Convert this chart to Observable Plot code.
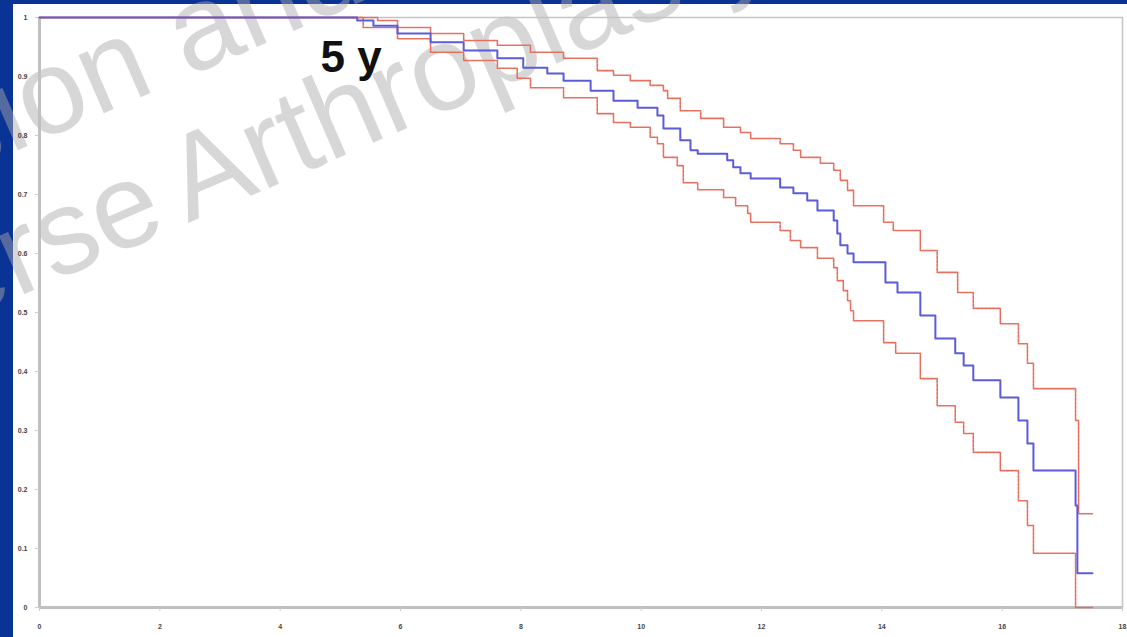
<!DOCTYPE html>
<html>
<head>
<meta charset="utf-8">
<script src="https://cdn.jsdelivr.net/npm/d3@7"></script>
<script src="https://cdn.jsdelivr.net/npm/@observablehq/plot@0.6"></script>
<style>
  html, body { margin:0; padding:0; }
  body { width:1127px; height:637px; background:#0a3396; position:relative; overflow:hidden; font-family:"Liberation Sans", Arial, sans-serif; }
  #panel { position:absolute; left:13px; top:4px; width:1114px; height:633px; background:#ffffff; }
  #wm { position:absolute; left:0; top:0; }
  #chart { position:absolute; left:0; top:0; }
</style>
</head>
<body>
<div id="panel"></div>
<svg id="wm" width="1127" height="637">
  <g font-family="Liberation Sans, Arial, sans-serif" font-size="120" fill="rgb(170,170,170)" fill-opacity="0.47">
    <g transform="translate(35,143) rotate(-23.4)">
      <text text-anchor="end">Revisi</text>
      <text text-anchor="start">on and</text>
    </g>
    <g transform="translate(188,223) rotate(-23.4)">
      <text text-anchor="end" x="-20">Reverse</text>
      <text text-anchor="start">Arthroplasty</text>
    </g>
  </g>
</svg>
<div id="chart"></div>
<script>
// Survival estimate (years, proportion)
const survivalYears = [0, 5.20, 5.28, 5.55, 5.95, 6.50, 7.05, 7.61, 8.04, 8.44, 8.71, 9.16, 9.54, 9.94, 10.27, 10.37, 10.65, 10.82, 10.94, 11.43, 11.53, 11.65, 11.82, 12.31, 12.53, 12.76, 12.93, 13.20, 13.26, 13.31, 13.43, 13.53, 14.06, 14.26, 14.64, 14.89, 15.22, 15.36, 15.52, 15.97, 16.27, 16.42, 16.52, 17.22, 17.25, 17.50];
const survivalValues = [1, 1.0, 0.995, 0.986, 0.973, 0.958, 0.944, 0.931, 0.915, 0.905, 0.893, 0.876, 0.859, 0.847, 0.834, 0.812, 0.792, 0.775, 0.769, 0.758, 0.746, 0.736, 0.727, 0.712, 0.702, 0.690, 0.673, 0.656, 0.634, 0.614, 0.600, 0.585, 0.551, 0.534, 0.495, 0.456, 0.431, 0.410, 0.385, 0.356, 0.317, 0.278, 0.232, 0.173, 0.058, 0.058];

// Upper confidence bound
const upperYears = [0, 5.38, 5.62, 5.95, 6.50, 7.05, 7.61, 8.16, 8.71, 9.27, 9.54, 9.82, 10.15, 10.37, 10.44, 10.65, 10.99, 11.37, 11.65, 11.82, 12.31, 12.53, 12.65, 12.98, 13.20, 13.31, 13.43, 13.53, 14.03, 14.19, 14.64, 14.92, 15.26, 15.52, 15.97, 16.27, 16.42, 16.52, 17.22, 17.27, 17.50];
const upperValues = [1, 1.0, 0.995, 0.983, 0.973, 0.961, 0.953, 0.941, 0.931, 0.910, 0.902, 0.893, 0.885, 0.876, 0.863, 0.842, 0.829, 0.814, 0.805, 0.795, 0.786, 0.775, 0.763, 0.753, 0.741, 0.724, 0.707, 0.681, 0.653, 0.639, 0.605, 0.568, 0.534, 0.507, 0.481, 0.447, 0.414, 0.371, 0.317, 0.159, 0.159];

// Lower confidence bound
const lowerYears = [0, 5.20, 5.38, 5.95, 6.50, 7.05, 7.61, 7.94, 8.16, 8.71, 9.27, 9.54, 9.82, 10.15, 10.27, 10.37, 10.60, 10.70, 10.94, 11.37, 11.57, 11.77, 11.82, 12.31, 12.48, 12.65, 12.93, 13.20, 13.26, 13.36, 13.43, 13.48, 13.53, 14.03, 14.23, 14.64, 14.92, 15.22, 15.36, 15.52, 15.97, 16.27, 16.42, 16.52, 17.22, 17.50];
const lowerValues = [1, 1.0, 0.983, 0.964, 0.941, 0.927, 0.914, 0.897, 0.881, 0.864, 0.837, 0.822, 0.814, 0.797, 0.786, 0.763, 0.749, 0.720, 0.708, 0.695, 0.681, 0.668, 0.653, 0.639, 0.622, 0.610, 0.592, 0.576, 0.554, 0.537, 0.520, 0.503, 0.486, 0.449, 0.431, 0.388, 0.342, 0.314, 0.295, 0.263, 0.232, 0.181, 0.139, 0.092, 0.0, 0.0];

const xTicks = [0, 2, 4, 6, 8, 10, 12, 14, 16, 18];
const yTicks = [0, 0.1, 0.2, 0.3, 0.4, 0.5, 0.6, 0.7, 0.8, 0.9, 1];
const annotation = [{year: 4.67, value: 0.907, label: "5 y"}];

const toRows = (xs, ys) => xs.map((x, i) => ({year: x, value: ys[i]}));
const survival = toRows(survivalYears, survivalValues);
const upper = toRows(upperYears, upperValues);
const lower = toRows(lowerYears, lowerValues);

const chart = Plot.plot({
  width: 1127,
  height: 637,
  marginLeft: 39,
  marginRight: 5,
  marginTop: 17,
  marginBottom: 30,
  style: {background: "transparent", fontFamily: "Liberation Sans, Arial, sans-serif", color: "#444"},
  x: {domain: [0, 18], label: null},
  y: {domain: [0, 1], label: null},
  marks: [
    Plot.frame({stroke: "#c4c4c4", strokeWidth: 1.5}),
    Plot.ruleX([0], {stroke: "#c0c0c0", strokeWidth: 3}),
    Plot.ruleY([0], {stroke: "#c0c0c0", strokeWidth: 3}),
    Plot.axisY({ticks: yTicks, tickSize: 4, tickPadding: 8, fontSize: 7, fontWeight: "bold", stroke: "#ccc", tickFormat: d => String(d)}),
    Plot.axisX({ticks: xTicks, tickSize: 4, tickPadding: 13, fontSize: 7, fontWeight: "bold", stroke: "#ccc", tickFormat: d => String(d)}),
    Plot.line(upper, {x: "year", y: "value", curve: "step-after", stroke: "#e5705f", strokeWidth: 1.6, strokeDasharray: "3,1"}),
    Plot.line(lower, {x: "year", y: "value", curve: "step-after", stroke: "#e5705f", strokeWidth: 1.6, strokeDasharray: "3,1"}),
    Plot.line(survival, {x: "year", y: "value", curve: "step-after", stroke: "#5b5bdc", strokeWidth: 2}),
    Plot.text(annotation, {x: "year", y: "value", text: "label", textAnchor: "start", lineAnchor: "bottom", fontSize: 44, fontWeight: "bold", fill: "#111"})
  ]
});
document.getElementById("chart").appendChild(chart);
</script>
</body>
</html>
